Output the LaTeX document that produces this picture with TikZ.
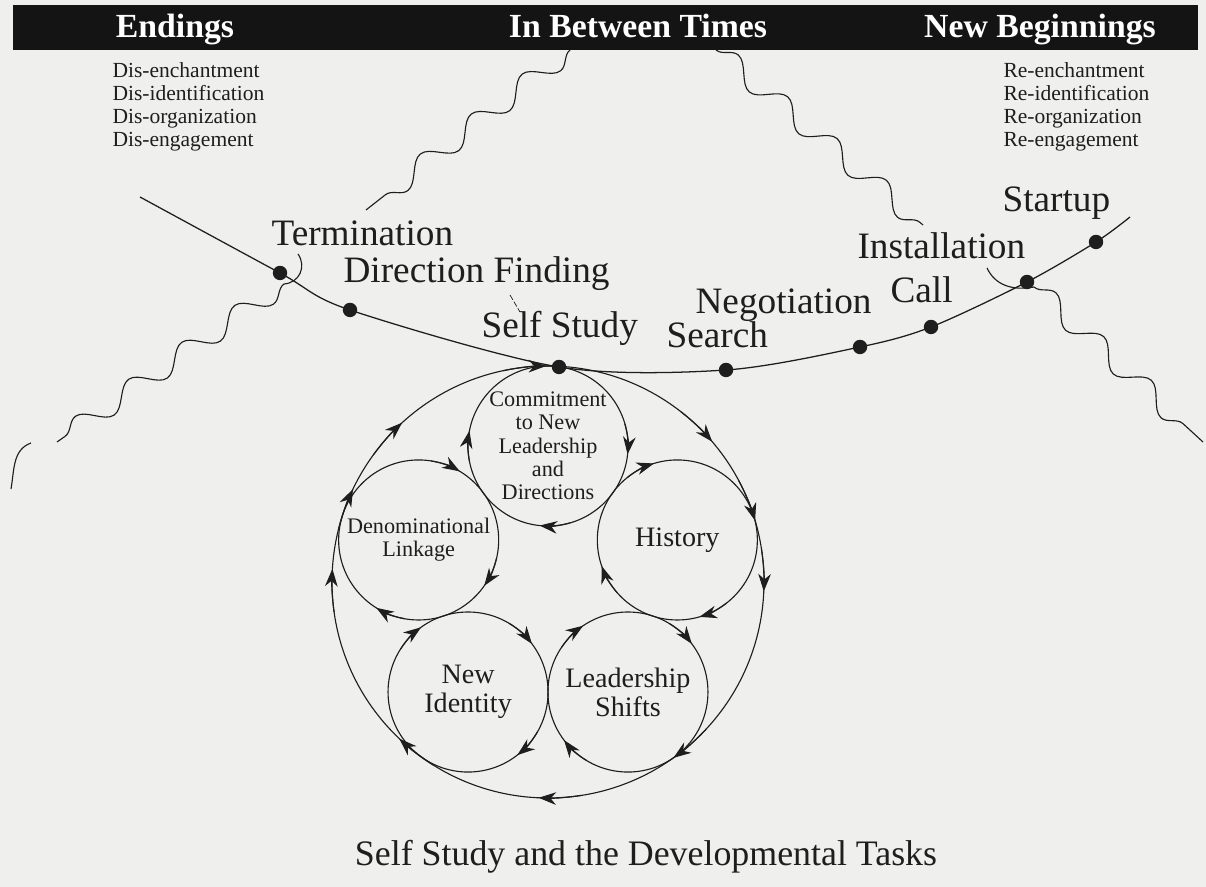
\documentclass[tikz,border=0pt]{standalone}
\usepackage{fontspec}
\setmainfont{Liberation Serif}
\usetikzlibrary{arrows.meta,decorations.pathmorphing}

\definecolor{paper}{RGB}{239,239,238}
\definecolor{ink}{RGB}{30,30,30}

\begin{document}
\begin{tikzpicture}[x=0.025cm,y=0.025cm,>={Stealth[length=12.5pt,width=9pt,inset=4pt]},
  color=ink,line width=0.8pt,
  dot/.style={circle,fill=ink,inner sep=0pt,minimum size=0.36cm},
  phase/.style={anchor=base,inner sep=0pt,text=white,font=\bfseries\fontsize{24}{28}\selectfont},
  task/.style={anchor=base west,inner sep=0pt,font=\fontsize{15.3}{16.2}\selectfont},
  lbl/.style={anchor=base west,inner sep=0pt,font=\fontsize{26.5}{30}\selectfont},
  stage/.style={circle,draw,minimum size=4cm,inner sep=0pt,align=center},
  small/.style={font=\fontsize{15.8}{16.6}\selectfont},
  big/.style={font=\fontsize{20}{20.5}\selectfont},
  wave/.style={decorate,decoration={snake,amplitude=7.5pt,segment length=46pt}},
  flow/.style={->}]
\useasboundingbox (0,0) rectangle (1206,887);
\fill[paper] (0,0) rectangle (1206,887);

% header band
\fill[black!92] (13,837) rectangle (1198,882);
\node[phase] (endings) at (175,849) {Endings};
\node[phase] (between) at (638,849) {In Between Times};
\node[phase] (beginnings) at (1040,849) {New Beginnings};

\foreach \w [count=\i] in {enchantment,identification,organization,engagement} {
  \node[task] (dis\i) at (112,832-23*\i) {Dis-\w};
  \node[task] (re\i) at (1003,832-23*\i) {Re-\w};
}

% big cycle with the five tasks
\coordinate (O) at (548,305);
\draw (O) circle[radius=216];
\begin{scope}[shift={(O)}]
  \node[stage,small] (commit) at (90:136) {Commitment\\to New\\Leadership\\and\\Directions};
  \node[stage,big] (history) at (18:136) {History};
  \node[stage,big] (shifts) at (-54:136) {Leadership\\Shifts};
  \node[stage,big] (identity) at (-126:136) {New\\Identity};
  \node[stage,small] (linkage) at (162:136) {Denominational\\Linkage};
\end{scope}

\foreach \a in {135,93,43,19,0,-52,-90,-131,179,157}
  \draw[flow] (O) ++({\a+9}:216) arc[start angle=\a+9,end angle=\a-2.5,radius=216];
\foreach \n/\angs in {commit/{0,-90,175},linkage/{65,-29,-116},history/{113,-68,205},
    identity/{132,43,-46},shifts/{130,43,-137}} {
  \foreach \a in \angs
    \draw[flow] (\n.center) ++({\a+16}:80) arc[start angle=\a+16,end angle=\a-6,radius=80];
}

% transition curve
\node[dot] (term) at (280,614) {};
\node[dot] (dirf) at (350,577) {};
\node[dot] (self) at (559,520) {};
\node[dot] (search) at (726,517) {};
\node[dot] (nego) at (860,540) {};
\node[dot] (call) at (931,560) {};
\node[dot] (inst) at (1027,605) {};
\node[dot] (startup) at (1096,645) {};
\coordinate (tail) at (140,690);
\coordinate (head) at (1130,670);
\draw[line width=0.9pt] plot[smooth] coordinates {(tail) (term.center) (dirf.center) (self.center)
  (search.center) (nego.center) (call.center) (inst.center) (startup.center) (head)};

\node[lbl] (termlbl) at (271,641) {Termination};
\node[lbl] (dirlbl) at (343,604) {Direction Finding};
\node[lbl] (selflbl) at (481,549) {Self Study};
\node[lbl] (searchlbl) at (666,539) {Search};
\node[lbl] (negolbl) at (695,573) {Negotiation};
\node[lbl] (calllbl) at (890,584) {Call};
\node[lbl] (instlbl) at (857,628) {Installation};
\node[lbl] (startlbl) at (1002,675) {Startup};
\draw[line width=0.5pt,dash pattern=on 4pt off 1.5pt] (510,592) -- (520,575);

% wavy boundaries
\coordinate (w1a) at (570,837);
\coordinate (w1b) at (366,677);
\coordinate (w2a) at (716,837);
\coordinate (w2b) at (923,662);
\draw[wave] (w1a) -- (w1b);
\draw[wave] (w2a) -- (w2b);

\coordinate (tcurl) at (298,633);
\coordinate (tfoot) at (284,603);
\coordinate (w3b) at (57,445);
\coordinate (w3c) at (31,444);
\coordinate (w3d) at (11,398);
\draw (tcurl) .. controls (307,620) and (299,604) .. (tfoot);
\draw[wave] (tfoot) -- (w3b);
\draw (w3c) to[out=200,in=80] (w3d);

\coordinate (icurl) at (987,619);
\coordinate (ifoot) at (1034,600);
\coordinate (w4b) at (1203,445);
\draw (icurl) .. controls (995,602) and (1012,596) .. (ifoot);
\draw[wave] (ifoot) -- (w4b);

\node[anchor=base,inner sep=0pt,font=\fontsize{25.5}{30}\selectfont] (caption) at (646,21)
  {Self Study and the Developmental Tasks};
\end{tikzpicture}
\end{document}
